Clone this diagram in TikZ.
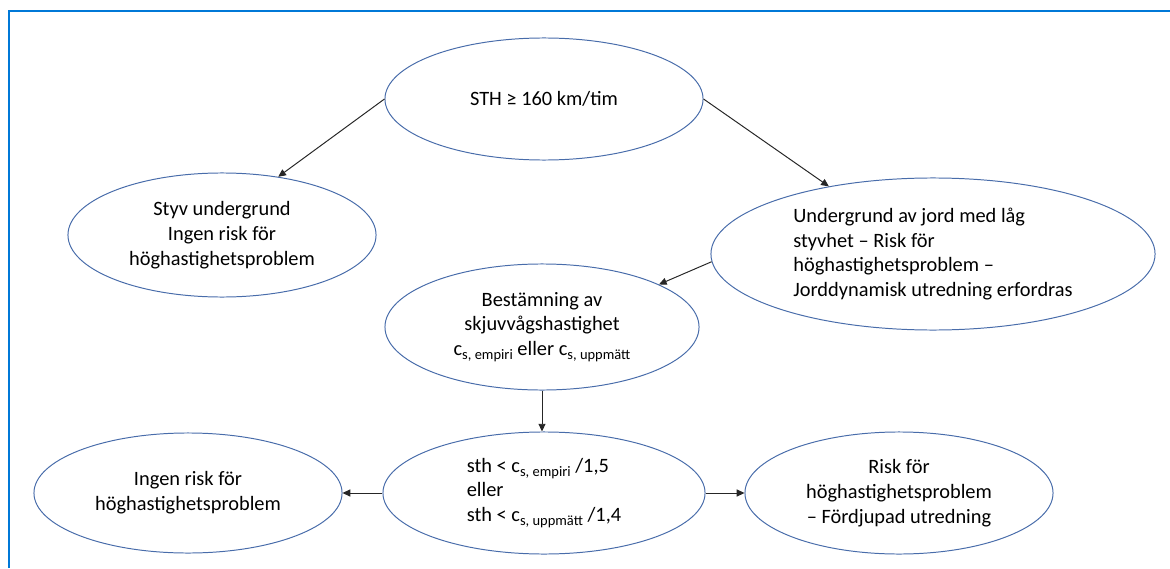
\documentclass[tikz,border=0pt]{standalone}
\usepackage{fontspec}
\setmainfont{Carlito}
\usepackage{xcolor}
\usetikzlibrary{arrows.meta, shapes.geometric}
\definecolor{ovalblue}{RGB}{72,108,170}
\definecolor{frameblue}{RGB}{0,120,215}
\newcommand{\lowidx}[1]{\raisebox{-0.4ex}{\fontsize{10.3}{12}\selectfont #1}}

\begin{document}
\begin{tikzpicture}[x=0.025cm, y=0.025cm, >={Triangle[length=5.5pt,width=5pt]},
    oval/.style={ellipse, draw=ovalblue, line width=0.7pt, inner sep=0pt, align=center,
        font=\fontsize{14.5}{17.6}\selectfont},
    link/.style={->, draw=black!85, line width=0.7pt}]
    \useasboundingbox (0,0) rectangle (1170,568);
    % Frame
    \draw[frameblue, line width=1pt] (9,0) -- (9,557) -- (1170,557);
    % Top
    \node[oval, minimum width=7.95cm, minimum height=3.05cm] (sth) at (544,469) {STH ≥ 160 km/tim};
    % Second row
    \node[oval, minimum width=7.7cm, minimum height=3.1cm] (styv) at (222,333)
        {Styv undergrund\\Ingen risk för\\höghastighetsproblem};
    \node[oval, minimum width=11.1cm, minimum height=3.8cm, align=left] (und) at (933,314)
        {Undergrund av jord med låg\\styvhet – Risk för\\höghastighetsproblem –\\Jorddynamisk utredning erfordras};
    % Shear wave velocity
    \node[oval, minimum width=7.85cm, minimum height=3.15cm] (best) at (542,241)
        {Bestämning av\\skjuvvågshastighet\\c\lowidx{s, empiri} eller c\lowidx{s, uppmätt}};
    % Bottom row
    \node[oval, minimum width=8.05cm, minimum height=3.05cm, align=left] (cond) at (544,75)
        {sth < c\lowidx{s, empiri} /1,5\\eller\\sth < c\lowidx{s, uppmätt} /1,4};
    \node[oval, minimum width=7.7cm, minimum height=3.0cm] (ingen) at (188,75)
        {Ingen risk för\\höghastighetsproblem};
    \node[oval, minimum width=7.7cm, minimum height=3.05cm] (risk) at (899,75)
        {Risk för\\höghastighetsproblem\\– Fördjupad utredning};
    % Arrows
    \draw[link] (sth.west) -- (styv.46);
    \draw[link] (sth.east) -- (und.147);
    \draw[link] (und.182) -- (best.20);
    \draw[link] (best.south) -- (best.south |- cond.north);
    \draw[link] (cond.west) -- (ingen.east);
    \draw[link] (cond.east) -- (risk.west);
\end{tikzpicture}
\end{document}
